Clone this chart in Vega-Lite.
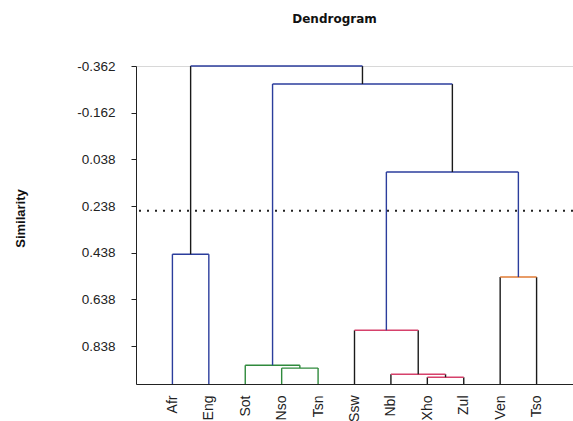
{
  "$schema": "https://vega.github.io/schema/vega-lite/v6.json",
  "autosize": {"type": "none"},
  "padding": {"left": 136, "top": 66, "right": 0, "bottom": 37},
  "width": 437,
  "height": 318,
  "background": "white",
  "title": {"text": "Dendrogram", "font": "DejaVu Sans", "fontSize": 12, "fontWeight": "bold", "color": "#111", "offset": 33, "dx": -20},
  "config": {
    "view": {"stroke": "#d8d8d8"},
    "axis": {"grid": false, "domainColor": "#222", "tickColor": "#222", "labelFont": "Liberation Sans", "labelFontSize": 13.5, "labelColor": "#222"}
  },
  "datasets": {
    "segs": [
      {"x": 1, "x2": 1, "y": 1.0, "y2": 0.444, "c": "blue"},
      {"x": 2, "x2": 2, "y": 1.0, "y2": 0.444, "c": "blue"},
      {"x": 1, "x2": 2, "y": 0.444, "y2": 0.444, "c": "blue"},
      {"x": 1.5, "x2": 1.5, "y": 0.444, "y2": -0.362, "c": "black"},
      {"x": 4, "x2": 4, "y": 1.0, "y2": 0.932, "c": "green"},
      {"x": 5, "x2": 5, "y": 1.0, "y2": 0.932, "c": "green"},
      {"x": 4, "x2": 5, "y": 0.932, "y2": 0.932, "c": "green"},
      {"x": 3, "x2": 3, "y": 1.0, "y2": 0.92, "c": "green"},
      {"x": 4.5, "x2": 4.5, "y": 0.932, "y2": 0.92, "c": "green"},
      {"x": 3, "x2": 4.5, "y": 0.92, "y2": 0.92, "c": "green"},
      {"x": 3.75, "x2": 3.75, "y": 0.92, "y2": -0.285, "c": "blue"},
      {"x": 8, "x2": 8, "y": 1.0, "y2": 0.971, "c": "black"},
      {"x": 9, "x2": 9, "y": 1.0, "y2": 0.971, "c": "black"},
      {"x": 8, "x2": 9, "y": 0.971, "y2": 0.971, "c": "red"},
      {"x": 7, "x2": 7, "y": 1.0, "y2": 0.958, "c": "black"},
      {"x": 8.5, "x2": 8.5, "y": 0.971, "y2": 0.958, "c": "black"},
      {"x": 7, "x2": 8.5, "y": 0.958, "y2": 0.958, "c": "red"},
      {"x": 6, "x2": 6, "y": 1.0, "y2": 0.77, "c": "black"},
      {"x": 7.75, "x2": 7.75, "y": 0.958, "y2": 0.77, "c": "black"},
      {"x": 6, "x2": 7.75, "y": 0.77, "y2": 0.77, "c": "red"},
      {"x": 6.875, "x2": 6.875, "y": 0.77, "y2": 0.092, "c": "blue"},
      {"x": 10, "x2": 10, "y": 1.0, "y2": 0.542, "c": "black"},
      {"x": 11, "x2": 11, "y": 1.0, "y2": 0.542, "c": "black"},
      {"x": 10, "x2": 11, "y": 0.542, "y2": 0.542, "c": "orange"},
      {"x": 10.5, "x2": 10.5, "y": 0.542, "y2": 0.092, "c": "blue"},
      {"x": 6.875, "x2": 10.5, "y": 0.092, "y2": 0.092, "c": "blue"},
      {"x": 8.6875, "x2": 8.6875, "y": 0.092, "y2": -0.285, "c": "black"},
      {"x": 3.75, "x2": 8.6875, "y": -0.285, "y2": -0.285, "c": "blue"},
      {"x": 6.21875, "x2": 6.21875, "y": -0.285, "y2": -0.362, "c": "black"},
      {"x": 1.5, "x2": 6.21875, "y": -0.362, "y2": -0.362, "c": "blue"}
    ],
    "cut": [{"y": 0.258}]
  },
  "layer": [
    {
      "data": {"name": "cut"},
      "mark": {"type": "rule", "color": "#222", "strokeDash": [2, 6], "strokeWidth": 1.8},
      "encoding": {
        "y": {"field": "y", "type": "quantitative", "scale": {"domain": [-0.362, 1.0], "reverse": true, "nice": false, "zero": false}}
      }
    },
    {
      "data": {"name": "segs"},
      "mark": {"type": "rule", "strokeWidth": 1.4},
      "encoding": {
        "x": {"field": "x", "type": "quantitative", "scale": {"domain": [0, 12], "nice": false, "zero": false},
          "axis": {"title": null, "values": [1, 2, 3, 4, 5, 6, 7, 8, 9, 10, 11], "ticks": false, "labelAngle": -90, "labelPadding": 11, "labelFontSize": 14,
            "labelExpr": "['','Afr','Eng','Sot','Nso','Tsn','Ssw','Nbl','Xho','Zul','Ven','Tso'][datum.value]"}},
        "x2": {"field": "x2"},
        "y": {"field": "y", "type": "quantitative", "scale": {"domain": [-0.362, 1.0], "reverse": true, "nice": false, "zero": false},
          "axis": {"title": "Similarity", "titleFont": "Liberation Sans", "titleFontSize": 13, "titleFontWeight": "bold", "titleColor": "#111",
            "titleAngle": -90, "titleX": -116, "titleY": 152, "titleAlign": "center", "titleBaseline": "middle",
            "values": [-0.362, -0.162, 0.038, 0.238, 0.438, 0.638, 0.838],
            "labelExpr": "datum.value < 0 ? '-' + format(-datum.value, '.3f') : format(datum.value, '.3f')",
            "tickSize": 5, "labelPadding": 16}},
        "y2": {"field": "y2"},
        "color": {"field": "c", "type": "nominal", "legend": null,
          "scale": {"domain": ["blue", "green", "red", "orange", "black"], "range": ["#2b3d9c", "#2f8a3c", "#d6416b", "#e07b35", "#1a1a1a"]}}
      }
    }
  ]
}
